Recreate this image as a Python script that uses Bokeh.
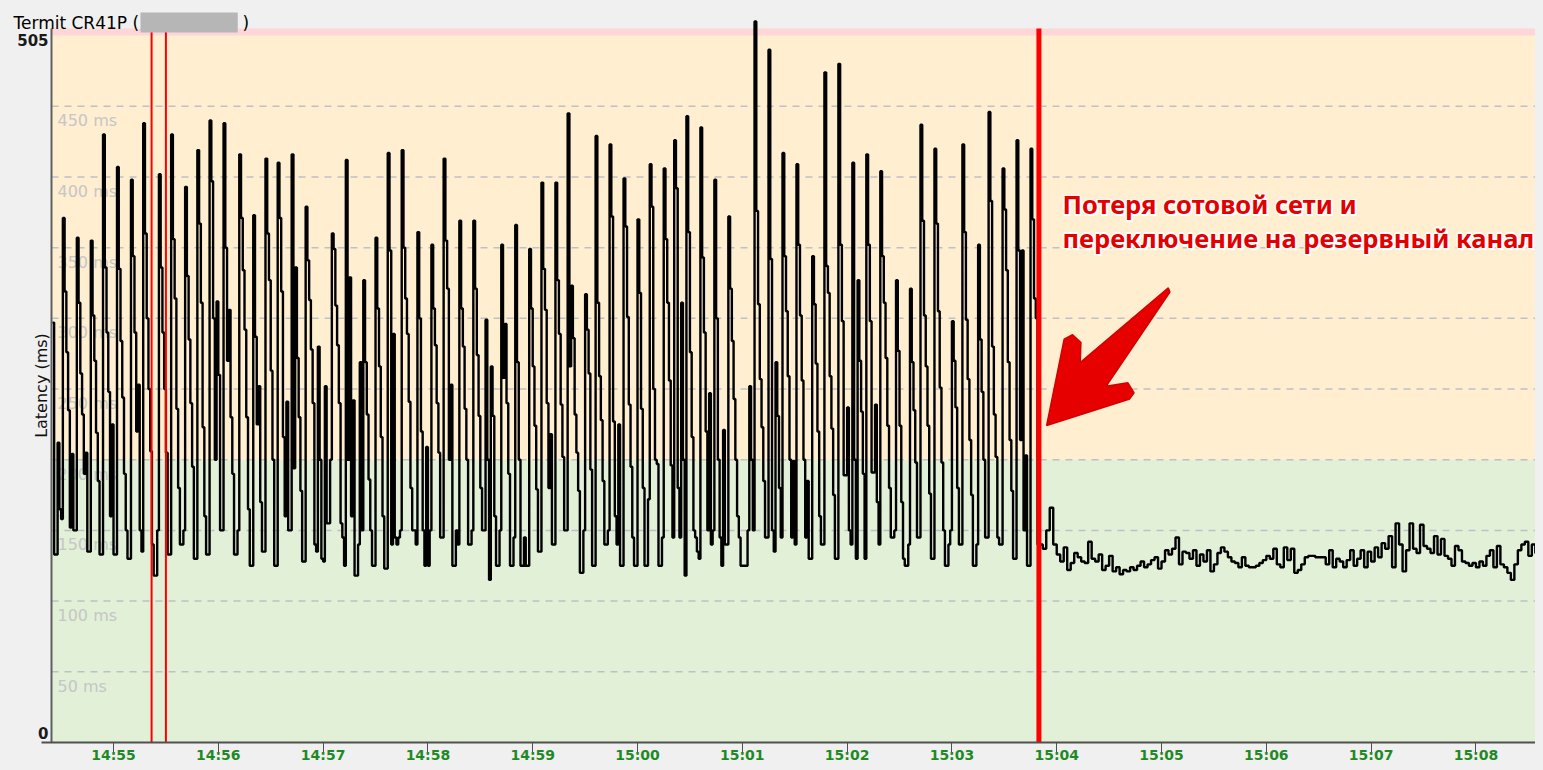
import numpy as np
from bokeh.plotting import figure
from bokeh.models import FixedTicker, Range1d
from bokeh.core.properties import value
from bokeh.embed import file_html
from bokeh.resources import INLINE

# ---------------- data ----------------
HEADER = "Termit CR41P ("
Y_MAX = 505
Y_LABEL = "Latency (ms)"
GRID_VALUES = [50, 100, 150, 200, 250, 300, 350, 400, 450]
GRID_LABELS = ["50 ms", "100 ms", "150 ms", "200 ms", "250 ms", "300 ms", "350 ms", "400 ms", "450 ms"]
TICK_LABELS = ["14:55", "14:56", "14:57", "14:58", "14:59", "15:00", "15:01",
               "15:02", "15:03", "15:04", "15:05", "15:06", "15:07", "15:08"]
BAND_EDGES = [0, 200, 500, 505]
BAND_COLORS = ["#e1f0d7", "#ffeed0", "#ffd6d6"]
EVENT_TIMES = ["14:55:21.8", "14:55:30.0", "15:03:49.8"]
EVENT_WIDTHS = [2, 2, 5]
ANNOT_LINES = ["Потеря сотовой сети и", "переключение на резервный канал"]
ANNOT_TIME = "15:04:03.3"
ANNOT_Y = [380.8, 357.1]

VIEW_START_HMS = "14:53:55.3"   # left edge of the drawing area (labels live left of the data)
DATA_START_HMS = "14:54:24.5"   # left edge of the chart body
X_END_HMS = "15:08:34.1"
AXIS_START_HMS = "14:54:19.0"
SEG1_START_HMS = "14:54:25"
SEG1_STEP_S = 1
SEG2_STEP_S = 2

# latency (ms), cellular link, one sample per second
SEG1 = [
    297, 133, 133, 212, 165, 158, 371, 319, 276, 235,
    152, 204, 150, 150, 357, 311, 261, 232, 190, 205,
    135, 135, 355, 302, 270, 219, 185, 133, 133, 430,
    336, 290, 248, 160, 225, 133, 133, 407, 335, 284,
    244, 190, 150, 130, 130, 398, 344, 290, 220, 253,
    150, 135, 438, 360, 300, 250, 206, 140, 118, 118,
    150, 402, 336, 290, 250, 205, 133, 133, 430, 356,
    314, 236, 180, 140, 140, 150, 393, 330, 285, 240,
    195, 130, 130, 419, 367, 311, 223, 160, 133, 133,
    440, 397, 300, 200, 312, 260, 150, 150, 438, 350,
    270, 306, 230, 190, 133, 133, 150, 416, 371, 334,
    292, 230, 165, 125, 125, 373, 287, 225, 252, 170,
    135, 135, 413, 360, 327, 263, 200, 125, 125, 410,
    371, 319, 216, 160, 241, 150, 150, 416, 194, 336,
    272, 230, 178, 128, 128, 379, 341, 313, 278, 240,
    140, 135, 280, 200, 130, 128, 252, 155, 155, 200,
    360, 349, 309, 281, 240, 155, 145, 125, 412, 200,
    329, 160, 242, 118, 118, 140, 269, 150, 327, 269,
    232, 186, 150, 125, 125, 357, 307, 266, 216, 160,
    123, 123, 417, 348, 140, 289, 145, 140, 145, 150,
    419, 350, 314, 289, 241, 180, 150, 150, 140, 361,
    300, 220, 150, 125, 209, 125, 150, 352, 307, 281,
    240, 205, 145, 145, 413, 355, 321, 200, 253, 125,
    125, 150, 140, 369, 307, 280, 236, 200, 140, 140,
    150, 369, 321, 274, 231, 180, 150, 150, 299, 200,
    115, 266, 231, 160, 125, 125, 150, 352, 258, 296,
    240, 190, 125, 125, 145, 366, 269, 200, 125, 125,
    145, 125, 125, 349, 307, 266, 224, 179, 135, 135,
    396, 335, 306, 240, 180, 218, 140, 140, 396, 327,
    289, 239, 202, 150, 150, 445, 266, 323, 286, 232,
    205, 178, 120, 120, 150, 317, 292, 261, 193, 125,
    125, 429, 311, 259, 228, 185, 140, 140, 150, 423,
    372, 227, 160, 140, 225, 125, 125, 399, 365, 301,
    239, 195, 145, 125, 125, 370, 318, 236, 180, 125,
    125, 172, 409, 379, 250, 200, 197, 125, 125, 145,
    406, 356, 311, 256, 196, 145, 426, 392, 180, 145,
    311, 200, 118, 443, 361, 276, 216, 150, 145, 135,
    130, 435, 343, 290, 220, 150, 247, 140, 150, 398,
    300, 200, 145, 125, 221, 140, 140, 372, 321, 284,
    243, 200, 160, 145, 125, 125, 125, 125, 150, 252,
    200, 150, 510, 376, 310, 257, 223, 185, 145, 145,
    490, 342, 150, 135, 269, 231, 180, 145, 417, 344,
    305, 259, 200, 145, 199, 140, 409, 352, 302, 256,
    200, 145, 185, 130, 130, 344, 310, 268, 220, 160,
    140, 140, 474, 337, 318, 259, 222, 175, 130, 130,
    480, 352, 298, 189, 189, 237, 150, 140, 410, 200,
    130, 327, 270, 234, 190, 130, 416, 352, 298, 191,
    191, 239, 170, 140, 404, 344, 311, 272, 224, 180,
    145, 145, 150, 327, 277, 224, 170, 130, 125, 125,
    140, 321, 269, 235, 198, 145, 145, 437, 369, 302,
    266, 224, 176, 130, 130, 420, 367, 305, 251, 198,
    150, 125, 125, 140, 150, 298, 270, 237, 180, 140,
    140, 423, 361, 299, 257, 214, 175, 125, 125, 140,
    352, 285, 248, 200, 145, 145, 446, 383, 280, 232,
    202, 145, 140, 140, 406, 377, 334, 269, 214, 178,
    130, 130, 426, 348, 214, 348, 150, 203, 125, 125,
    420, 370, 314, 300, 140,
]

# latency (ms), backup channel, one sample every 2 seconds
SEG2 = [
    140, 137, 150, 166, 140, 133, 128, 138, 122, 127,
    134, 131, 128, 127, 142, 130, 128, 133, 122, 125,
    132, 121, 124, 119, 122, 121, 124, 122, 125, 128,
    124, 126, 129, 131, 123, 128, 136, 133, 137, 145,
    126, 135, 134, 130, 136, 125, 133, 128, 136, 121,
    126, 134, 138, 135, 131, 128, 127, 124, 131, 125,
    124, 124, 125, 127, 129, 132, 130, 137, 126, 124,
    138, 129, 137, 120, 122, 126, 131, 132, 132, 131,
    131, 131, 126, 136, 124, 130, 128, 124, 129, 136,
    125, 130, 136, 124, 135, 128, 138, 131, 141, 137,
    146, 124, 155, 140, 121, 136, 155, 137, 134, 154,
    139, 137, 134, 146, 133, 144, 132, 130, 125, 139,
    136, 128, 127, 125, 127, 124, 128, 125, 132, 136,
    124, 139, 126, 124, 120, 115, 126, 136, 140, 142,
    132, 140, 134, 136,
]

# annotation arrow outline (minutes since 14:00, ms)
ARROW_T = [65.065, 65.080, 64.471, 64.679, 64.738, 64.696, 63.904, 64.071, 64.151, 64.231, 64.224]
ARROW_V = [321.5, 318.6, 252.0, 254.4, 247.3, 243.0, 224.2, 285.3, 288.4, 282.9, 268.7]


def to_min(hms):
    parts = hms.split(":")
    h = int(parts[0])
    m = int(parts[1])
    s = float(parts[2]) if len(parts) > 2 else 0.0
    return (h - 14) * 60 + m + s / 60.0


VIEW_START = to_min(VIEW_START_HMS)
DATA_START = to_min(DATA_START_HMS)
X_END = to_min(X_END_HMS)

t1 = to_min(SEG1_START_HMS) + np.arange(len(SEG1)) * SEG1_STEP_S / 60.0
t2_start = to_min(SEG1_START_HMS) + len(SEG1) * SEG1_STEP_S / 60.0
t2 = t2_start + np.arange(len(SEG2)) * SEG2_STEP_S / 60.0
times = np.concatenate([t1, t2])
lat = np.array(SEG1 + SEG2, dtype=float)

tick_pos = [to_min(l) for l in TICK_LABELS]
event_pos = [to_min(e) for e in EVENT_TIMES]

FRAME_H = 742
Y_TOP = FRAME_H / (714.0 / Y_MAX)   # room above the chart body for the header row

p = figure(width=1535, height=766,
           x_range=Range1d(VIEW_START, X_END), y_range=Range1d(0, Y_TOP),
           y_axis_location=None,
           output_backend="svg", toolbar_location=None,
           min_border_left=0, min_border_right=0, min_border_top=0, min_border_bottom=24,
           border_fill_color="#f0f0f0", background_fill_color="#f0f0f0",
           outline_line_color=None)
p.grid.visible = False

# bands
p.quad(left=DATA_START, right=X_END, bottom=BAND_EDGES[:-1], top=BAND_EDGES[1:],
       fill_color=BAND_COLORS, line_color=None)
# dashed gridlines
p.segment(x0=DATA_START, x1=X_END, y0=GRID_VALUES, y1=GRID_VALUES,
          line_color="#bfc0c5", line_width=1.5, line_dash="7 6")
# gridline labels
p.text(x=DATA_START, y=GRID_VALUES, text=GRID_LABELS, x_offset=6, y_offset=5,
       text_baseline="top", text_align="left",
       text_font=value("DejaVu Sans"), text_font_size="16px", text_color="#c6c6c6")
# latency line
p.step(x=times, y=lat, mode="after", line_color="black", line_width=2.4)
# event lines
p.segment(x0=event_pos, x1=event_pos, y0=0, y1=Y_MAX,
          line_color="#ff0000", line_width=EVENT_WIDTHS)
# y axis line
p.segment(x0=DATA_START, x1=DATA_START, y0=0, y1=Y_MAX, line_color="#606060", line_width=2)
# arrow
p.patch(ARROW_T, ARROW_V, fill_color="#e60000", line_color="#d40000", line_width=1.5)

# x axis
p.xaxis.bounds = (to_min(AXIS_START_HMS), X_END)
p.xaxis.ticker = FixedTicker(ticks=tick_pos)
p.xaxis.major_label_overrides = {tp: lab for tp, lab in zip(tick_pos, TICK_LABELS)}
p.xaxis.minor_tick_line_color = None
p.xaxis.major_tick_out = 12
p.xaxis.major_tick_in = 0
p.xaxis.major_label_standoff = -8
p.xaxis.major_tick_line_color = "#505050"
p.xaxis.axis_line_color = "#505050"
p.xaxis.axis_line_width = 2
p.xaxis.major_label_text_color = "#1f8a25"
p.xaxis.major_label_text_font = "DejaVu Sans"
p.xaxis.major_label_text_font_style = "bold"
p.xaxis.major_label_text_font_size = "14px"

# y end labels
p.text(x=[DATA_START], y=[Y_MAX], text=[str(Y_MAX)], x_offset=-3, y_offset=5,
       text_align="right", text_baseline="top",
       text_font=value("DejaVu Sans"), text_font_style="bold",
       text_font_size="15px", text_color="#1a1a1a")
p.text(x=[DATA_START], y=[0], text=["0"], x_offset=-3, y_offset=-4,
       text_align="right", text_baseline="bottom",
       text_font=value("DejaVu Sans"), text_font_style="bold",
       text_font_size="15px", text_color="#1a1a1a")
p.text(x=[DATA_START], y=[Y_MAX / 2], text=[Y_LABEL], x_offset=-10, angle=np.pi / 2,
       text_align="center", text_baseline="middle",
       text_font=value("DejaVu Sans"), text_font_size="16px", text_color="#111111")

# header tab
p.text(x=[DATA_START], y=[Y_MAX], text=[HEADER], x_offset=-38, y_offset=-6,
       text_align="left", text_baseline="alphabetic",
       text_font=value("DejaVu Sans"), text_font_size="17px", text_color="#000000")
p.text(x=[DATA_START], y=[Y_MAX], text=["\u00a0" * 18], x_offset=89, y_offset=-6,
       text_align="left", text_baseline="alphabetic",
       text_font=value("DejaVu Sans"), text_font_size="17px",
       background_fill_color="#b6b6b6")
p.text(x=[DATA_START], y=[Y_MAX], text=[")"], x_offset=191, y_offset=-6,
       text_align="left", text_baseline="alphabetic",
       text_font=value("DejaVu Sans"), text_font_size="17px", text_color="#000000")

# annotation: white halo, then red text
ann_x = to_min(ANNOT_TIME)
for dx, dy in [(-1.5, 0), (1.5, 0), (0, -1.5), (0, 1.5), (-1, -1), (1, -1), (-1, 1), (1, 1), (2, 2)]:
    p.text(x=[ann_x] * len(ANNOT_LINES), y=ANNOT_Y, text=ANNOT_LINES,
           x_offset=dx, y_offset=dy,
           text_align="left", text_baseline="alphabetic",
           text_font=value("Noto Sans"), text_font_style="bold", text_font_size="25.5px",
           text_color="#ffffff")
p.text(x=[ann_x] * len(ANNOT_LINES), y=ANNOT_Y, text=ANNOT_LINES,
       text_align="left", text_baseline="alphabetic",
       text_font=value("Noto Sans"), text_font_style="bold", text_font_size="25.5px",
       text_color="#e30000")

html = file_html(p, INLINE)
html = html.replace("<head>", "<head><style>body{background:#f0f0f0;}</style>", 1)
open("out.html", "w").write(html)
